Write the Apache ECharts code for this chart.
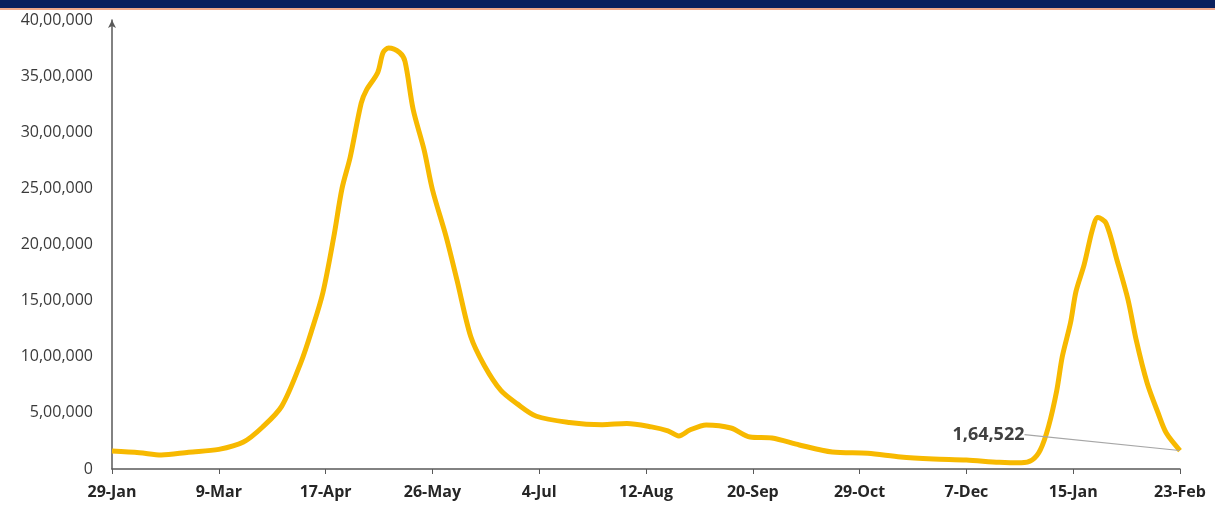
<!DOCTYPE html>
<html>
<head>
<meta charset="utf-8">
<script src="https://cdn.jsdelivr.net/npm/echarts@6/dist/echarts.min.js"></script>
<style>
  html, body { margin: 0; padding: 0; background: #fff; }
  #chart { width: 1215px; height: 508px; }
</style>
</head>
<body>
<div id="chart"></div>
<script>
// active cases
const dates = [
  '2021-01-29', '2021-02-08', '2021-02-16', '2021-02-26', '2021-03-09', '2021-03-18',
  '2021-03-25', '2021-04-01', '2021-04-08', '2021-04-12', '2021-04-16', '2021-04-20',
  '2021-04-23', '2021-04-26', '2021-04-30', '2021-05-02', '2021-05-06', '2021-05-08',
  '2021-05-10', '2021-05-14', '2021-05-16', '2021-05-19', '2021-05-23', '2021-05-26',
  '2021-05-31', '2021-06-04', '2021-06-09', '2021-06-14', '2021-06-20', '2021-06-26',
  '2021-07-03', '2021-07-15', '2021-07-27', '2021-08-05', '2021-08-14', '2021-08-20',
  '2021-08-24', '2021-08-28', '2021-09-03', '2021-09-12', '2021-09-19', '2021-09-27',
  '2021-10-07', '2021-10-19', '2021-11-01', '2021-11-13', '2021-11-25', '2021-12-07',
  '2021-12-19', '2021-12-27', '2021-12-31', '2022-01-03', '2022-01-06', '2022-01-09',
  '2022-01-11', '2022-01-14', '2022-01-16', '2022-01-19', '2022-01-22', '2022-01-24',
  '2022-01-27', '2022-01-31', '2022-02-04', '2022-02-07', '2022-02-11', '2022-02-15',
  '2022-02-18', '2022-02-23'
];
const activeCases = [
  160000, 145000, 125000, 150000, 175000, 240000,
  374000, 560000, 950000, 1240000, 1570000, 2070000,
  2500000, 2780000, 3260000, 3380000, 3530000, 3710000,
  3750000, 3710000, 3630000, 3200000, 2840000, 2490000,
  2070000, 1680000, 1180000, 920000, 700000, 580000,
  470000, 415000, 395000, 405000, 375000, 340000,
  295000, 347000, 392000, 365000, 285000, 276000,
  214000, 151000, 140000, 107000, 90000, 80000,
  60000, 55000, 80000, 170000, 380000, 700000,
  1000000, 1300000, 1580000, 1820000, 2130000, 2240000,
  2190000, 1860000, 1510000, 1150000, 766000, 499000,
  320000, 164522
];
const yTicks = [0, 500000, 1000000, 1500000, 2000000, 2500000, 3000000, 3500000, 4000000];
const tickStepDays = 39;

const DAY = 86400000;
const start = Date.UTC(2021, 0, 29);
const months = ['Jan', 'Feb', 'Mar', 'Apr', 'May', 'Jun', 'Jul', 'Aug', 'Sep', 'Oct', 'Nov', 'Dec'];

function dayOffset(s) {
  const p = s.split('-').map(Number);
  return Math.round((Date.UTC(p[0], p[1] - 1, p[2]) - start) / DAY);
}
function dayLabel(v) {
  const d = new Date(start + v * DAY);
  return d.getUTCDate() + '-' + months[d.getUTCMonth()];
}
// indian grouping: 40,00,000
function inr(n) {
  let s = String(Math.round(n));
  if (s.length <= 3) return s;
  let last3 = s.slice(-3);
  let rest = s.slice(0, -3);
  rest = rest.replace(/\B(?=(\d{2})+(?!\d))/g, ',');
  return rest + ',' + last3;
}

const seriesData = dates.map((d, i) => [dayOffset(d), activeCases[i]]);
const lastIdx = seriesData.length - 1;
const maxDay = dayOffset(dates[lastIdx]);

const chart = echarts.init(document.getElementById('chart'));
chart.setOption({
  backgroundColor: '#fff',
  animation: false,
  graphic: [
    { type: 'rect', left: 0, top: 0, shape: { width: 1215, height: 8 }, style: { fill: '#0b215e' } },
    { type: 'rect', left: 0, top: 8, shape: { width: 1215, height: 2 }, style: { fill: '#f2a98a' } }
  ],
  grid: { left: 112, right: 35, top: 20, bottom: 39 },
  xAxis: {
    type: 'value',
    min: 0,
    max: maxDay,
    interval: tickStepDays,
    axisLine: { lineStyle: { color: '#595959', width: 1.5 } },
    axisTick: { show: true, length: 5, lineStyle: { color: '#595959' } },
    splitLine: { show: false },
    axisLabel: {
      formatter: v => dayLabel(v),
      color: '#262626',
      fontFamily: 'Open Sans',
      fontWeight: 'bold',
      fontSize: 16,
      margin: 15
    }
  },
  yAxis: {
    type: 'value',
    min: yTicks[0],
    max: yTicks[yTicks.length - 1],
    interval: yTicks[1] - yTicks[0],
    axisLine: { show: true, symbol: ['none', 'arrow'], symbolSize: [6, 8], lineStyle: { color: '#595959', width: 1.5 } },
    axisTick: { show: false },
    splitLine: { show: false },
    axisLabel: {
      formatter: v => inr(v),
      color: '#3a3a3a',
      fontFamily: 'Open Sans',
      fontSize: 16,
      margin: 19
    }
  },
  series: [{
    type: 'line',
    data: seriesData.map((p, i) => i === lastIdx ? {
      value: p,
      symbol: 'circle',
      symbolSize: 1,
      itemStyle: { color: 'rgba(0,0,0,0)' },
      label: {
        show: true,
        formatter: inr(p[1]),
        color: '#404040',
        fontFamily: 'Open Sans',
        fontWeight: 'bold',
        fontSize: 18,
        position: 'left'
      },
      labelLine: { show: true, lineStyle: { color: '#a6a6a6', width: 1.2 } }
    } : p),
    smooth: 0.3,
    showSymbol: true,
    symbol: 'none',
    lineStyle: { color: '#f7b900', width: 5 },
    labelLayout: params => params.dataIndex === lastIdx ? { dx: -150, dy: -16 } : {},
    labelLine: { show: true, lineStyle: { color: '#a6a6a6', width: 1.2 } }
  }]
});
</script>
</body>
</html>
